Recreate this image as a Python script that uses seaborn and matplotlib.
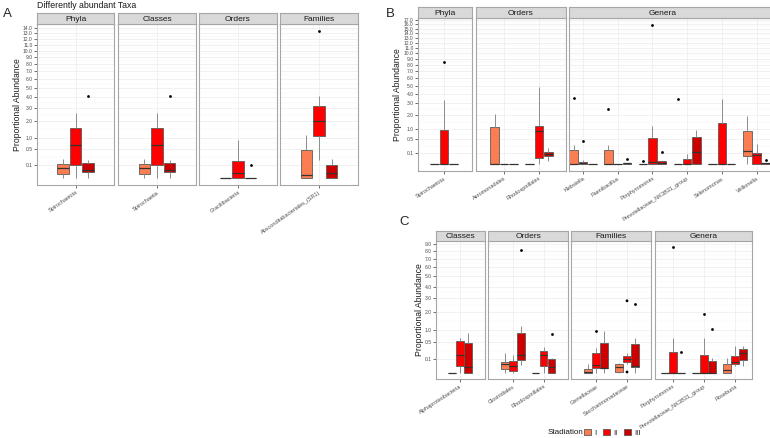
import numpy as np
import pandas as pd
import matplotlib
matplotlib.use("Agg")
import matplotlib.pyplot as plt
from matplotlib.patches import Patch
import seaborn as sns

sns.set_theme(style="white")
plt.rcParams['font.family'] = ['Liberation Sans', 'DejaVu Sans']

STAGES = ["I", "II", "III"]
PALETTE = {"I": "#FB7D52", "II": "#FF0000", "III": "#CC0000"}
Z = [0, 0, 0, 0, 0]

# ---------------- Panel A ----------------
A_PHYLA_TAXA = ["Spirochaetota"]
A_PHYLA_BOX = [[[0, 0.008, 0.062, 0.111, 0.21], [0, 0.1, 0.65, 1.52, 2.59], [0, 0.018, 0.037, 0.14, 0.195]]]
A_PHYLA_OUT = [("Spirochaetota", "III", 4.1)]

A_CLASSES_TAXA = ["Spirochaetia"]
A_CLASSES_BOX = [[[0, 0.008, 0.062, 0.111, 0.21], [0, 0.1, 0.65, 1.52, 2.59], [0, 0.018, 0.037, 0.14, 0.195]]]
A_CLASSES_OUT = [("Spirochaetia", "III", 4.1)]

A_ORDERS_TAXA = ["Gracilibacteria"]
A_ORDERS_BOX = [[Z, [0, 0, 0.012, 0.167, 0.887], Z]]
A_ORDERS_OUT = [("Gracilibacteria", "III", 0.095)]

A_FAMILIES_TAXA = ["Absconditabacteriales_(SR1)"]
A_FAMILIES_BOX = [[[0, 0, 0.003, 0.49, 1.12], [0.19, 1.085, 2.0, 3.21, 4.1], [0, 0, 0.016, 0.106, 0.225]]]
A_FAMILIES_OUT = [("Absconditabacteriales_(SR1)", "II", 13.3)]

# ---------------- Panel B ----------------
B_PHYLA_TAXA = ["Spirochaetota"]
B_PHYLA_BOX = [[Z, [0, 0, 0, 0.925, 3.37], Z]]
B_PHYLA_OUT = [("Spirochaetota", "II", 8.5)]

B_ORDERS_TAXA = ["Aeromonadales", "Rhodospirillales"]
B_ORDERS_BOX = [[[0, 0, 0, 1.10, 2.02], Z, Z],
                [Z, [0, 0.027, 0.87, 1.18, 4.85], [0.009, 0.053, 0.089, 0.127, 0.213]]]
B_ORDERS_OUT = []

B_GENERA_TAXA = ["Klebsiella", "Paenibacillus", "Porphyromonas",
                 "Prevotellaceae_NK3B31_group", "Selenomonas", "Veillonella"]
B_GENERA_BOX = [
    [[0, 0, 0, 0.163, 0.29], [0, 0, 0.0004, 0.0033, 0.011], Z],
    [[0, 0, 0, 0.171, 0.311], Z, [0, 0, 0.0004, 0.0015, 0.0015]],
    [Z, [0, 0, 0.0045, 0.548, 1.2], [0, 0, 0.001, 0.006, 0.006]],
    [Z, [0, 0, 0, 0.021, 0.078], [0, 0, 0.127, 0.59, 0.96]],
    [Z, [0, 0, 0, 1.40, 3.48], Z],
    [[0, 0.053, 0.148, 0.888, 1.86], [0, 0, 0.0625, 0.107, 0.32], [0, 0, 0.0004, 0.0008, 0.0008]],
]
B_GENERA_OUT = [("Klebsiella", "I", 3.55), ("Klebsiella", "II", 0.44),
                ("Paenibacillus", "I", 2.43), ("Paenibacillus", "III", 0.018),
                ("Porphyromonas", "I", 0.006), ("Porphyromonas", "II", 15.8),
                ("Porphyromonas", "III", 0.12),
                ("Prevotellaceae_NK3B31_group", "I", 3.45),
                ("Veillonella", "III", 0.013)]

# ---------------- Panel C ----------------
C_CLASSES_TAXA = ["Alphaproteobacteria"]
C_CLASSES_BOX = [[Z, [0, 0.024, 0.176, 0.533, 0.666], [0, 0, 0.0155, 0.49, 0.84]]]
C_CLASSES_OUT = []

C_ORDERS_TAXA = ["Clostridiales", "Rhodospirillales"]
C_ORDERS_BOX = [[[0, 0.006, 0.044, 0.066, 0.217], [0, 0.0015, 0.022, 0.07, 0.163], [0.029, 0.083, 0.176, 0.87, 1.18]],
                [Z, [0, 0.024, 0.176, 0.263, 0.367], [0, 0, 0.02, 0.097, 0.122]]]
C_ORDERS_OUT = [("Clostridiales", "III", 8.09), ("Rhodospirillales", "III", 0.83)]

C_FAMILIES_TAXA = ["Gemellaceae", "Saccharimonadaceae"]
C_FAMILIES_BOX = [[[0, 0, 0.0005, 0.006, 0.044], [0, 0.01, 0.035, 0.2, 0.34], [0, 0.01, 0.012, 0.49, 0.93]],
                  [[0, 0.0005, 0.017, 0.04, 0.054], [0.04, 0.062, 0.106, 0.145, 0.203], [0, 0.02, 0.027, 0.436, 0.666]]]
C_FAMILIES_OUT = [("Gemellaceae", "II", 0.94), ("Saccharimonadaceae", "II", 2.79),
                  ("Saccharimonadaceae", "II", 0.0003), ("Saccharimonadaceae", "III", 2.54)]

C_GENERA_TAXA = ["Porphyromonas", "Prevotellaceae_NK3B31_group", "Roseburia"]
C_GENERA_BOX = [[Z, [0, 0, 0, 0.24, 0.666], Z],
                [Z, [0, 0, 0, 0.17, 0.666], [0, 0, 0, 0.07, 0.122]],
                [[0, 0, 0.003, 0.041, 0.11], [0.024, 0.038, 0.062, 0.151, 0.386], [0.024, 0.083, 0.21, 0.296, 0.386]]]
C_GENERA_OUT = [("Porphyromonas", "II", 8.49), ("Porphyromonas", "III", 0.24),
                ("Prevotellaceae_NK3B31_group", "II", 1.85), ("Prevotellaceae_NK3B31_group", "III", 1.04)]

A_YTICKS = [0.1, 0.5] + list(range(1, 15))
B_YTICKS = [0.1, 0.5] + list(range(1, 18))
C_YTICKS = [0.1, 0.5] + list(range(1, 10))

W, H = 770, 438
fig = plt.figure(figsize=(W / 100, H / 100), dpi=100)

GREY_BORDER = "#A6A6A6"
TXT = "#4D4D4D"


def px_axes(x0, y0, x1, y1):
    return fig.add_axes([x0 / W, 1 - y1 / H, (x1 - x0) / W, (y1 - y0) / H])


def fwd(y):
    y = np.asarray(y, dtype=float)
    return np.sign(y) * np.sqrt(np.abs(y))


def inv(y):
    y = np.asarray(y, dtype=float)
    return np.sign(y) * y ** 2


def long_df(taxa, box):
    rows = []
    for t, groups in zip(taxa, box):
        for s, vals in zip(STAGES, groups):
            for v in vals:
                rows.append((t, s, v))
    return pd.DataFrame(rows, columns=["taxon", "stage", "value"])


def panel_ylim(facets):
    m = 0
    for taxa, box, out in facets:
        for g in box:
            for vals in g:
                m = max(m, max(vals))
        for o in out:
            m = max(m, o[2])
    r = np.sqrt(m)
    return (float(inv(-0.05 * r)), float(inv(1.05 * r)))


def draw_facet(x0, x1, ytop, ybot, stop, title, taxa, box, out, xlim, ylim,
               yticks, show_y, rot, title_x=None):
    ax = px_axes(x0, ytop, x1, ybot)
    ax.set_yscale('function', functions=(fwd, inv))
    df = long_df(taxa, box)
    sns.boxplot(data=df, x="taxon", y="value", hue="stage", order=taxa,
                hue_order=STAGES, palette=PALETTE, saturation=1, whis=(0, 100),
                showfliers=False, width=0.8, gap=0.08, linewidth=0.6,
                linecolor="#5A5A5A", showcaps=False,
                medianprops=dict(color="#333333", linewidth=0.9),
                whiskerprops=dict(color="#8C8C8C", linewidth=0.7),
                legend=False, ax=ax)
    if out:
        odf = pd.DataFrame(out, columns=["taxon", "stage", "value"])
        sns.stripplot(data=odf, x="taxon", y="value", hue="stage", order=taxa,
                      hue_order=STAGES, palette={s: "black" for s in STAGES},
                      dodge=True, jitter=False, size=2, linewidth=0,
                      legend=False, ax=ax, zorder=5)
    ax.set_xlim(*xlim)
    ax.set_ylim(*ylim)
    ax.set_facecolor("white")
    ax.set_axisbelow(True)
    ax.set_yticks(yticks)
    s = fwd(np.array(yticks))
    minor = inv((s[:-1] + s[1:]) / 2)
    ax.set_yticks(minor, minor=True)
    ax.grid(True, which="major", color="#EBEBEB", linewidth=0.5)
    ax.grid(True, which="minor", axis="y", color="#F3F3F3", linewidth=0.35)
    ax.set_xlabel("")
    ax.set_ylabel("")
    ax.set_xticks(range(len(taxa)))
    ax.set_xticklabels(taxa, rotation=rot, ha="right", va="top",
                       rotation_mode="anchor", fontsize=4.0, color=TXT)
    if show_y:
        ax.set_yticklabels([f"{t:.1f}" for t in yticks], fontsize=3.6, color=TXT)
        ax.tick_params(axis="y", which="major", length=2, width=0.5,
                       color="#333333", pad=1, left=True)
    else:
        ax.set_yticklabels([])
        ax.tick_params(axis="y", which="both", length=0)
    ax.tick_params(axis="y", which="minor", length=0)
    ax.tick_params(axis="x", length=2, width=0.5, color="#333333", pad=1.5,
                   bottom=True)
    for sp in ax.spines.values():
        sp.set_color(GREY_BORDER)
        sp.set_linewidth(0.8)
    # strip
    st = px_axes(x0, stop, x1, ytop)
    st.set_facecolor("#D9D9D9")
    st.set_xticks([])
    st.set_yticks([])
    for sp in st.spines.values():
        sp.set_color(GREY_BORDER)
        sp.set_linewidth(0.8)
    tx = 0.5 if title_x is None else (title_x - x0) / (x1 - x0)
    st.text(tx, 0.45, title, ha="center", va="center", fontsize=6,
            color="#1A1A1A", transform=st.transAxes)
    return ax


# ---------------- draw Panel A ----------------
A_FACETS = [(A_PHYLA_TAXA, A_PHYLA_BOX, A_PHYLA_OUT),
            (A_CLASSES_TAXA, A_CLASSES_BOX, A_CLASSES_OUT),
            (A_ORDERS_TAXA, A_ORDERS_BOX, A_ORDERS_OUT),
            (A_FAMILIES_TAXA, A_FAMILIES_BOX, A_FAMILIES_OUT)]
ylimA = panel_ylim(A_FACETS)
A_LAYOUT = [(37, 114, "Phyla"), (118, 196, "Classes"), (199, 277, "Orders"), (280, 358, "Families")]
for i, ((x0, x1, name), (taxa, box, out)) in enumerate(zip(A_LAYOUT, A_FACETS)):
    half = (x1 - x0) / 2 / 47.5
    draw_facet(x0, x1, 24, 185, 13, name, taxa, box, out, (-half, half), ylimA,
               A_YTICKS, i == 0, 35)

# ---------------- draw Panel B ----------------
B_FACETS = [(B_PHYLA_TAXA, B_PHYLA_BOX, B_PHYLA_OUT),
            (B_ORDERS_TAXA, B_ORDERS_BOX, B_ORDERS_OUT),
            (B_GENERA_TAXA, B_GENERA_BOX, B_GENERA_OUT)]
ylimB = panel_ylim(B_FACETS)
B_LAYOUT = [(418, 472, "Phyla", 444, 35, None),
            (476, 566, "Orders", 504, 35, None),
            (569, 790, "Genera", 583, 34.7, 663)]
for i, ((x0, x1, name, first, sp, tx), (taxa, box, out)) in enumerate(zip(B_LAYOUT, B_FACETS)):
    draw_facet(x0, x1, 18, 171, 7, name, taxa, box, out,
               ((x0 - first) / sp, (x1 - first) / sp), ylimB, B_YTICKS, i == 0, 33,
               title_x=tx)

# ---------------- draw Panel C ----------------
C_FACETS = [(C_CLASSES_TAXA, C_CLASSES_BOX, C_CLASSES_OUT),
            (C_ORDERS_TAXA, C_ORDERS_BOX, C_ORDERS_OUT),
            (C_FAMILIES_TAXA, C_FAMILIES_BOX, C_FAMILIES_OUT),
            (C_GENERA_TAXA, C_GENERA_BOX, C_GENERA_OUT)]
ylimC = panel_ylim(C_FACETS)
C_LAYOUT = [(436, 485, "Classes", 460, 31),
            (488, 568, "Orders", 513, 30.5),
            (571, 651, "Families", 596, 31),
            (655, 752, "Genera", 673, 31)]
for i, ((x0, x1, name, first, sp), (taxa, box, out)) in enumerate(zip(C_LAYOUT, C_FACETS)):
    draw_facet(x0, x1, 241, 379, 231, name, taxa, box, out,
               ((x0 - first) / sp, (x1 - first) / sp), ylimC, C_YTICKS, i == 0, 33)

# ---------------- annotations ----------------
fig.text(37 / W, 1 - 5 / H, "Differently abundant Taxa", fontsize=6.3,
         color="#1A1A1A", va="center", ha="left")
fig.text(3 / W, 1 - 14 / H, "A", fontsize=9.5, va="center", ha="left")
fig.text(386 / W, 1 - 14 / H, "B", fontsize=9.5, va="center", ha="left")
fig.text(399 / W, 1 - 222 / H, "C", fontsize=9.5, va="center", ha="left")
fig.text(18 / W, 1 - 105 / H, "Proportional Abundance", rotation=90,
         fontsize=6.2, va="center", ha="center", color="#1A1A1A")
fig.text(397 / W, 1 - 95 / H, "Proportional Abundance", rotation=90,
         fontsize=6.2, va="center", ha="center", color="#1A1A1A")
fig.text(419 / W, 1 - 310 / H, "Proportional Abundance", rotation=90,
         fontsize=6.2, va="center", ha="center", color="#1A1A1A")

# legend
fig.text(548 / W, 1 - 433 / H, "Stadiation", fontsize=5.8, va="center",
         ha="left", color="#1A1A1A")
handles = [Patch(facecolor=PALETTE[s], edgecolor="#5A5A5A", linewidth=0.6, label=s)
           for s in STAGES]
fig.legend(handles=handles, loc="center left", bbox_to_anchor=(580 / W, 1 - 433 / H),
           ncol=3, frameon=False, fontsize=5.5, handlelength=1.0, handleheight=0.9,
           handletextpad=0.4, columnspacing=0.8, borderpad=0, labelcolor="#1A1A1A")

fig.savefig("out.png", dpi=100, facecolor="white")
